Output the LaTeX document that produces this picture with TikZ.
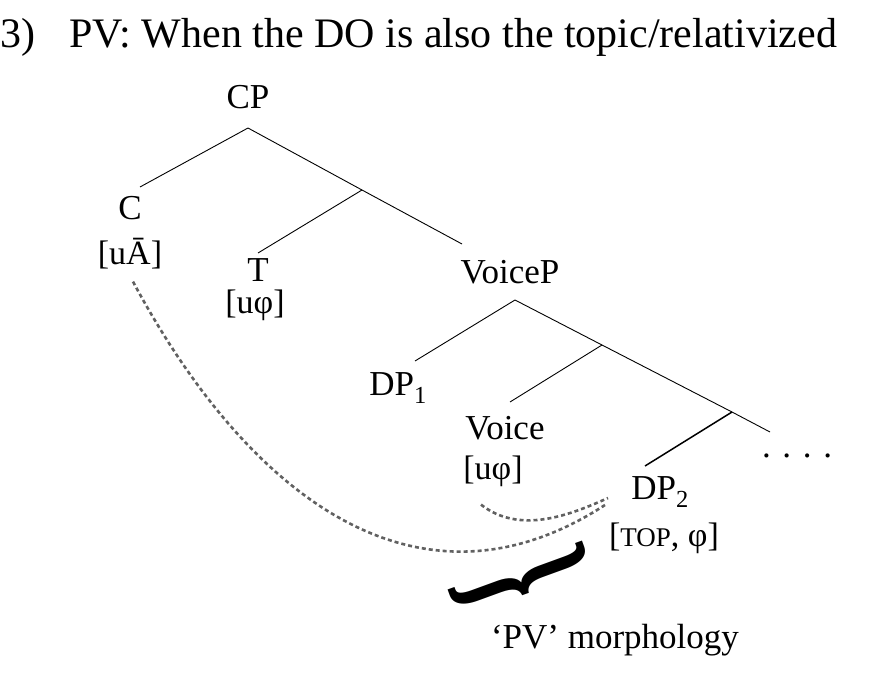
\documentclass[tikz,border=0pt]{standalone}
\usepackage{fontspec}
\setmainfont{Liberation Serif}
\begin{document}
\begin{tikzpicture}[x=1pt,y=-1pt,lbl/.style={inner sep=0pt,font=\fontsize{35}{40}\selectfont},
      feat/.style={inner sep=0pt,font=\fontsize{34}{38}\selectfont},
      agree/.style={dash pattern=on 4pt off 3pt,line width=2.6pt,draw=black!62}]
      \useasboundingbox (0,0) rectangle (881,688);

      \node[lbl,anchor=west,font=\fontsize{42}{46}\selectfont] (title) at (-14,37) {(3)\hspace{34pt}PV: When the DO is also the topic/relativized};

      \node[lbl] (CP) at (248,97) {CP};
      \node[lbl] (C) at (130,208) {C};
      \node[feat] (Cf) at (130,254) {[uĀ]};
      \node[lbl] (T) at (258,270) {T};
      \node[feat] (Tf) at (255,305) {[uφ]};
      \node[lbl] (VoiceP) at (510,272) {VoiceP};
      \node[lbl] (DP1) at (398,388) {DP\textsubscript{1}};
      \node[lbl] (Voice) at (505,428) {Voice};
      \node[feat] (Voicef) at (493,471) {[uφ]};
      \node[lbl] (DP2) at (660,492) {DP\textsubscript{2}};
      \node[feat] (DP2f) at (664,538) {[{\fontsize{27}{30}\selectfont TOP}, φ]};
      \node[lbl] (dots) at (797,456) {.\,\,.\,\,.\,\,.};
      \node[lbl] (morph) at (615,640) {`PV' morphology};

      \coordinate (cp) at (248,128);
      \coordinate (c) at (140,187);
      \coordinate (tbar) at (362,190);
      \coordinate (t) at (258,253);
      \coordinate (vp) at (462,244);
      \coordinate (vpt) at (515,300);
      \coordinate (dp1) at (415,361);
      \coordinate (vbar) at (602,345);
      \coordinate (v) at (510,402);
      \coordinate (vcomp) at (732,412);
      \coordinate (dp2) at (645,466);
      \coordinate (rest) at (770,432);

      \draw[line width=0.9pt] (cp) -- (c);
      \draw[line width=0.9pt] (cp) -- (tbar) -- (vp);
      \draw[line width=0.9pt] (tbar) -- (t);
      \draw[line width=0.9pt] (vpt) -- (dp1);
      \draw[line width=0.9pt] (vpt) -- (vbar) -- (vcomp) -- (rest);
      \draw[line width=0.9pt] (vbar) -- (v);
      \draw[line width=1.5pt] (vcomp) -- (dp2);

      % agreement
      \draw[agree] (Cf.south) ++(3,12) .. controls (250,500) and (420,625) .. (605,505);
      \draw[agree] (Voicef.south) ++(-12,18) .. controls (520,535) and (570,515) .. (608,498);

      \node[rotate=-70,xscale=1.5,yscale=2.7,inner sep=0pt,font=\fontsize{64}{64}\bfseries\selectfont] (brace) at (520,580) {\}};
\end{tikzpicture}
\end{document}
